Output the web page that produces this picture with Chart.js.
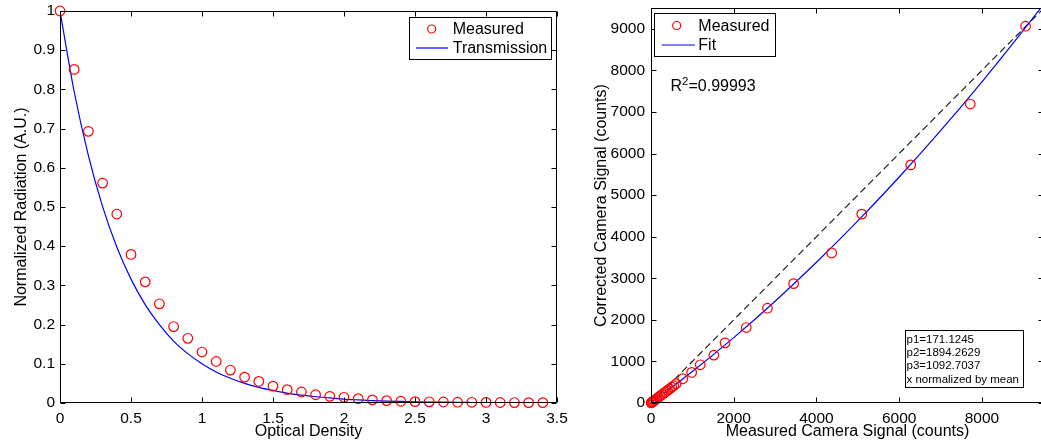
<!DOCTYPE html>
<html>
<head>
<meta charset="utf-8">
<script src="https://cdn.jsdelivr.net/npm/chart.js@4.4.1/dist/chart.umd.min.js"></script>
<style>
  html, body { margin: 0; padding: 0; background: #fff; overflow: hidden; }
  body { width: 1041px; height: 446px; position: relative; }
  .panel { position: absolute; top: 0; height: 446px; }
  #odPanel { left: 0; width: 600px; }
  #camPanel { left: 580px; width: 470px; }
</style>
</head>
<body>
<div class="panel" id="odPanel"><canvas id="odChart" width="600" height="446"></canvas></div>
<div class="panel" id="camPanel"><canvas id="camChart" width="470" height="446"></canvas></div>
<script>
// Left panel: radiation through ND filters
const opticalDensity = [0, 0.1, 0.2, 0.3, 0.4, 0.5, 0.6, 0.7, 0.8, 0.9, 1.0, 1.1, 1.2, 1.3, 1.4, 1.5, 1.6,
    1.7, 1.8, 1.9, 2.0, 2.1, 2.2, 2.3, 2.4, 2.5, 2.6, 2.7, 2.8, 2.9, 3.0, 3.1, 3.2, 3.3, 3.4];
const measuredRadiation = [1.0, 0.851, 0.693, 0.561, 0.482, 0.379, 0.309, 0.253, 0.195, 0.165, 0.130, 0.106,
    0.084, 0.066, 0.055, 0.043, 0.034, 0.028, 0.021, 0.017, 0.0145, 0.011, 0.008, 0.006, 0.0045, 0.0035,
    0.003, 0.0025, 0.002, 0.0018, 0.0015, 0.0013, 0.0011, 0.001, 0.0009];
const transmission = [1.0, 0.794, 0.631, 0.501, 0.398, 0.316, 0.251, 0.2, 0.158, 0.126, 0.1, 0.079, 0.063,
    0.05, 0.04, 0.032, 0.025, 0.02, 0.016, 0.013, 0.01, 0.008, 0.0063, 0.005, 0.004, 0.0032, 0.0025, 0.002,
    0.0016, 0.0013, 0.001, 0.0008, 0.0006, 0.0005, 0.0004];
const odTicks = [0, 0.5, 1, 1.5, 2, 2.5, 3, 3.5];
const radiationTicks = [0, 0.1, 0.2, 0.3, 0.4, 0.5, 0.6, 0.7, 0.8, 0.9, 1];

// Right panel: camera linearity correction
const measuredSignal = [5, 18, 35, 55, 80, 110, 143, 180, 223, 262, 303, 350, 399, 450, 503, 550, 607, 767,
    983, 1191, 1519, 1791, 2303, 2815, 3447, 4368, 5095, 6279, 7718, 9055];
const correctedSignal = [4, 13, 26, 41, 60, 82, 108, 136, 170, 198, 232, 265, 303, 340, 383, 415, 463, 583,
    735, 919, 1151, 1447, 1815, 2280, 2871, 3607, 4543, 5726, 7190, 9062];
const fitSignal = [0, 1000, 2000, 3000, 4000, 5000, 6000, 7000, 8000, 9000, 9500];
const fitCorrected = [0, 756, 1572, 2448, 3384, 4380, 5435, 6550, 7725, 8961, 9600];
const identityLine = [0, 9500];
const signalTicks = [0, 2000, 4000, 6000, 8000];
const correctedTicks = [0, 1000, 2000, 3000, 4000, 5000, 6000, 7000, 8000, 9000];

const rSquared = '0.99993';
const fitNotes = ['p1=171.1245', 'p2=1894.2629', 'p3=1092.7037', 'x normalized by mean'];

const FONT = '"Liberation Sans", Arial, Helvetica, sans-serif';
Chart.defaults.font.family = FONT;
Chart.defaults.color = '#000';

function toPoints(xs, ys) {
    return xs.map((x, i) => ({ x: x, y: ys[i] }));
}

function linearAxis(opts) {
    return {
        type: 'linear',
        position: opts.position,
        min: opts.min,
        max: opts.max,
        grid: { display: false, drawTicks: false },
        border: { display: false },
        afterBuildTicks: scale => {
            scale.ticks = opts.ticks.map(v => ({ value: v }));
        },
        afterFit: scale => {
            if (scale.isHorizontal()) scale.height = opts.size;
            else scale.width = opts.size;
            scale.paddingTop = scale.paddingBottom = scale.paddingLeft = scale.paddingRight = 0;
        },
        ticks: {
            autoSkip: false,
            maxRotation: 0,
            padding: opts.tickPadding,
            color: '#000',
            font: { size: 15.5 },
            callback: v => String(v)
        },
        title: {
            display: true,
            text: opts.title,
            color: '#000',
            font: { size: 16 },
            padding: opts.titlePadding
        }
    };
}

// Boxed axes with inward ticks, an in-plot legend and free text
const matlabAxes = {
    id: 'matlabAxes',
    afterDraw(chart, args, opts) {
        const { ctx, chartArea: a } = chart;
        const x = chart.scales.x, y = chart.scales.y;
        const L = Math.round(a.left) + 0.5, R = Math.round(a.right) - 0.5;
        const T = Math.round(a.top) + 0.5, B = Math.round(a.bottom) - 0.5;
        ctx.save();
        ctx.strokeStyle = '#000';
        ctx.lineWidth = 1;
        ctx.beginPath();
        x.ticks.forEach(t => {
            const p = Math.round(x.getPixelForValue(t.value)) + 0.5;
            ctx.moveTo(p, B); ctx.lineTo(p, B - 5);
            ctx.moveTo(p, T); ctx.lineTo(p, T + 5);
        });
        y.ticks.forEach(t => {
            const p = Math.round(y.getPixelForValue(t.value)) + 0.5;
            ctx.moveTo(L, p); ctx.lineTo(L + 5, p);
            ctx.moveTo(R, p); ctx.lineTo(R - 5, p);
        });
        ctx.rect(L, T, R - L, B - T);
        ctx.stroke();

        // legend
        const lg = opts.legend;
        if (lg) {
            ctx.fillStyle = '#fff';
            ctx.fillRect(lg.left, lg.top, lg.width, lg.height);
            ctx.strokeStyle = '#000';
            ctx.strokeRect(lg.left + 0.5, lg.top + 0.5, lg.width, lg.height);
            lg.entries.forEach((idx, row) => {
                const ds = chart.data.datasets[idx];
                const cy = lg.rows[row];
                if (ds.showLine) {
                    ctx.strokeStyle = ds.borderColor;
                    ctx.lineWidth = ds.borderWidth;
                    ctx.beginPath();
                    ctx.moveTo(lg.lineFrom, cy);
                    ctx.lineTo(lg.lineTo, cy);
                    ctx.stroke();
                } else {
                    ctx.strokeStyle = ds.pointBorderColor;
                    ctx.lineWidth = ds.pointBorderWidth;
                    ctx.beginPath();
                    ctx.arc(lg.markerX, cy, 4, 0, Math.PI * 2);
                    ctx.stroke();
                }
                ctx.fillStyle = '#000';
                ctx.font = '16px ' + FONT;
                ctx.textBaseline = 'middle';
                ctx.textAlign = 'left';
                ctx.fillText(ds.label, lg.textX, cy + 1);
            });
        }

        // R squared label
        const r2 = opts.rSquared;
        if (r2) {
            ctx.fillStyle = '#000';
            ctx.textBaseline = 'alphabetic';
            ctx.textAlign = 'left';
            ctx.font = '16px ' + FONT;
            let cx = r2.x;
            ctx.fillText('R', cx, r2.y);
            cx += ctx.measureText('R').width;
            ctx.font = '11.5px ' + FONT;
            ctx.fillText('2', cx, r2.y - 5.7);
            cx += ctx.measureText('2').width;
            ctx.font = '16px ' + FONT;
            ctx.fillText('=' + r2.value, cx, r2.y);
        }

        // fit parameter box
        const nb = opts.notes;
        if (nb) {
            ctx.fillStyle = '#fff';
            ctx.fillRect(nb.left, nb.top, nb.width, nb.height);
            ctx.strokeStyle = '#000';
            ctx.lineWidth = 1;
            ctx.strokeRect(nb.left + 0.5, nb.top + 0.5, nb.width, nb.height);
            ctx.fillStyle = '#000';
            ctx.font = '11.5px ' + FONT;
            ctx.textBaseline = 'middle';
            ctx.textAlign = 'left';
            nb.lines.forEach((s, i) => {
                ctx.fillText(s, nb.left + 1.5, nb.firstRow + i * nb.rowStep);
            });
        }
        ctx.restore();
    }
};

// Optical density chart
const odConfig = {
    type: 'scatter',
    data: {
        datasets: [{
            label: 'Measured',
            data: toPoints(opticalDensity, measuredRadiation),
            showLine: false,
            pointStyle: 'circle',
            pointRadius: 4.8,
            pointBorderWidth: 1.2,
            pointBorderColor: '#ff0000',
            pointBackgroundColor: 'rgba(0,0,0,0)',
            clip: false,
            order: 0
        }, {
            label: 'Transmission',
            data: toPoints(opticalDensity, transmission),
            showLine: true,
            borderColor: '#0000ff',
            borderWidth: 1.2,
            pointRadius: 0,
            cubicInterpolationMode: 'monotone',
            order: 1
        }]
    },
    options: {
        responsive: false,
        animation: false,
        events: [],
        layout: { padding: { left: 0, top: 11, right: 43, bottom: 0 } },
        scales: {
            x: linearAxis({ position: 'bottom', min: 0, max: 3.5, ticks: odTicks, size: 43,
                tickPadding: 6, title: 'Optical Density', titlePadding: { bottom: 4.7 } }),
            y: linearAxis({ position: 'left', min: 0, max: 1, ticks: radiationTicks, size: 60,
                tickPadding: 5, title: 'Normalized Radiation (A.U.)', titlePadding: { top: 11.5 } })
        },
        plugins: {
            legend: { display: false },
            tooltip: { enabled: false },
            matlabAxes: {
                legend: { left: 409, top: 17, width: 142, height: 42, rows: [29, 48], entries: [0, 1],
                    markerX: 431.7, lineFrom: 416, lineTo: 448, textX: 452.7 }
            }
        }
    },
    plugins: [matlabAxes]
};

// Camera signal correction chart
const camConfig = {
    type: 'scatter',
    data: {
        datasets: [{
            label: 'Measured',
            data: toPoints(measuredSignal, correctedSignal),
            showLine: false,
            pointStyle: 'circle',
            pointRadius: 4.8,
            pointBorderWidth: 1.2,
            pointBorderColor: '#ff0000',
            pointBackgroundColor: 'rgba(0,0,0,0)',
            clip: false,
            order: 0
        }, {
            label: 'Fit',
            data: toPoints(fitSignal, fitCorrected),
            showLine: true,
            borderColor: '#0000ff',
            borderWidth: 1.2,
            pointRadius: 0,
            cubicInterpolationMode: 'monotone',
            order: 1
        }, {
            label: 'Identity',
            data: toPoints(identityLine, identityLine),
            showLine: true,
            borderColor: '#111',
            borderWidth: 1.1,
            borderDash: [7, 4],
            pointRadius: 0,
            order: 2
        }]
    },
    options: {
        responsive: false,
        animation: false,
        events: [],
        layout: { padding: { left: 0, top: 8, right: 4, bottom: 0 } },
        scales: {
            x: linearAxis({ position: 'bottom', min: 0, max: 9500, ticks: signalTicks, size: 43,
                tickPadding: 6, title: 'Measured Camera Signal (counts)', titlePadding: { bottom: 4.7 } }),
            y: linearAxis({ position: 'left', min: 0, max: 9500, ticks: correctedTicks, size: 71,
                tickPadding: 6, title: 'Corrected Camera Signal (counts)', titlePadding: { top: 11.5 } })
        },
        plugins: {
            legend: { display: false },
            tooltip: { enabled: false },
            matlabAxes: {
                legend: { left: 74, top: 13, width: 121, height: 43, rows: [25.5, 45], entries: [0, 1],
                    markerX: 96.7, lineFrom: 81.7, lineTo: 115, textX: 118.3 },
                rSquared: { x: 90.5, y: 90.7, value: rSquared },
                notes: { left: 325, top: 330, width: 118, height: 57, firstRow: 339.5, rowStep: 13.3,
                    lines: fitNotes }
            }
        }
    },
    plugins: [matlabAxes]
};

new Chart(document.getElementById('odChart'), odConfig);
new Chart(document.getElementById('camChart'), camConfig);
</script>
</body>
</html>
